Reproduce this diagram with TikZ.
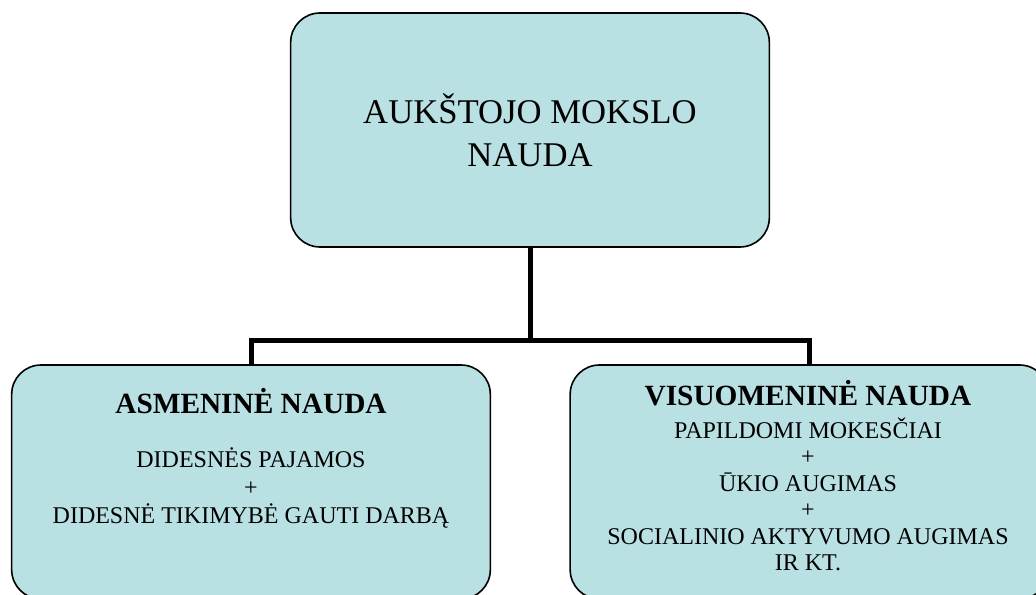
\documentclass[tikz,border=0pt]{standalone}
\usepackage{fontspec}
\setmainfont{Liberation Serif}
\definecolor{boxfill}{RGB}{185,224,227}
\tikzset{
  box/.style={draw, line width=1.2pt, fill=boxfill, rounded corners=22pt,
    minimum width=359pt, minimum height=175.5pt, inner sep=0pt},
  boxtext/.style={anchor=north, align=center, inner sep=0pt},
  conn/.style={line width=3.75pt},
}
\begin{document}
\begin{tikzpicture}[x=0.75pt,y=-0.75pt]
  \useasboundingbox (0,0) rectangle (1036,595);
  \node[box, align=center, font=\fontsize{26}{32}\selectfont] (top) at (530,130)
    {AUKŠTOJO MOKSLO\\NAUDA};
  \node[box] (asm) at (251,482) {};
  \node[box] (vis) at (809.5,482) {};
  \node[boxtext, font=\fontsize{18}{21}\selectfont] (asmtxt) at (251,388)
    {{\fontsize{22}{21}\selectfont\bfseries ASMENINĖ NAUDA}\\[19.5pt]
     DIDESNĖS PAJAMOS\\+\\DIDESNĖ TIKIMYBĖ GAUTI DARBĄ};
  \node[boxtext, font=\fontsize{18}{19.8}\selectfont] (vistxt) at (808,380)
    {{\fontsize{22}{19.8}\selectfont\bfseries VISUOMENINĖ NAUDA}\\[4.95pt]
     PAPILDOMI MOKESČIAI\\+\\ŪKIO AUGIMAS\\+\\SOCIALINIO AKTYVUMO AUGIMAS\\IR KT.};
  \coordinate (split) at (530,341);
  \draw[conn] (top) -- (split);
  \draw[conn] (asm) |- (split) -| (vis);
\end{tikzpicture}
\end{document}
